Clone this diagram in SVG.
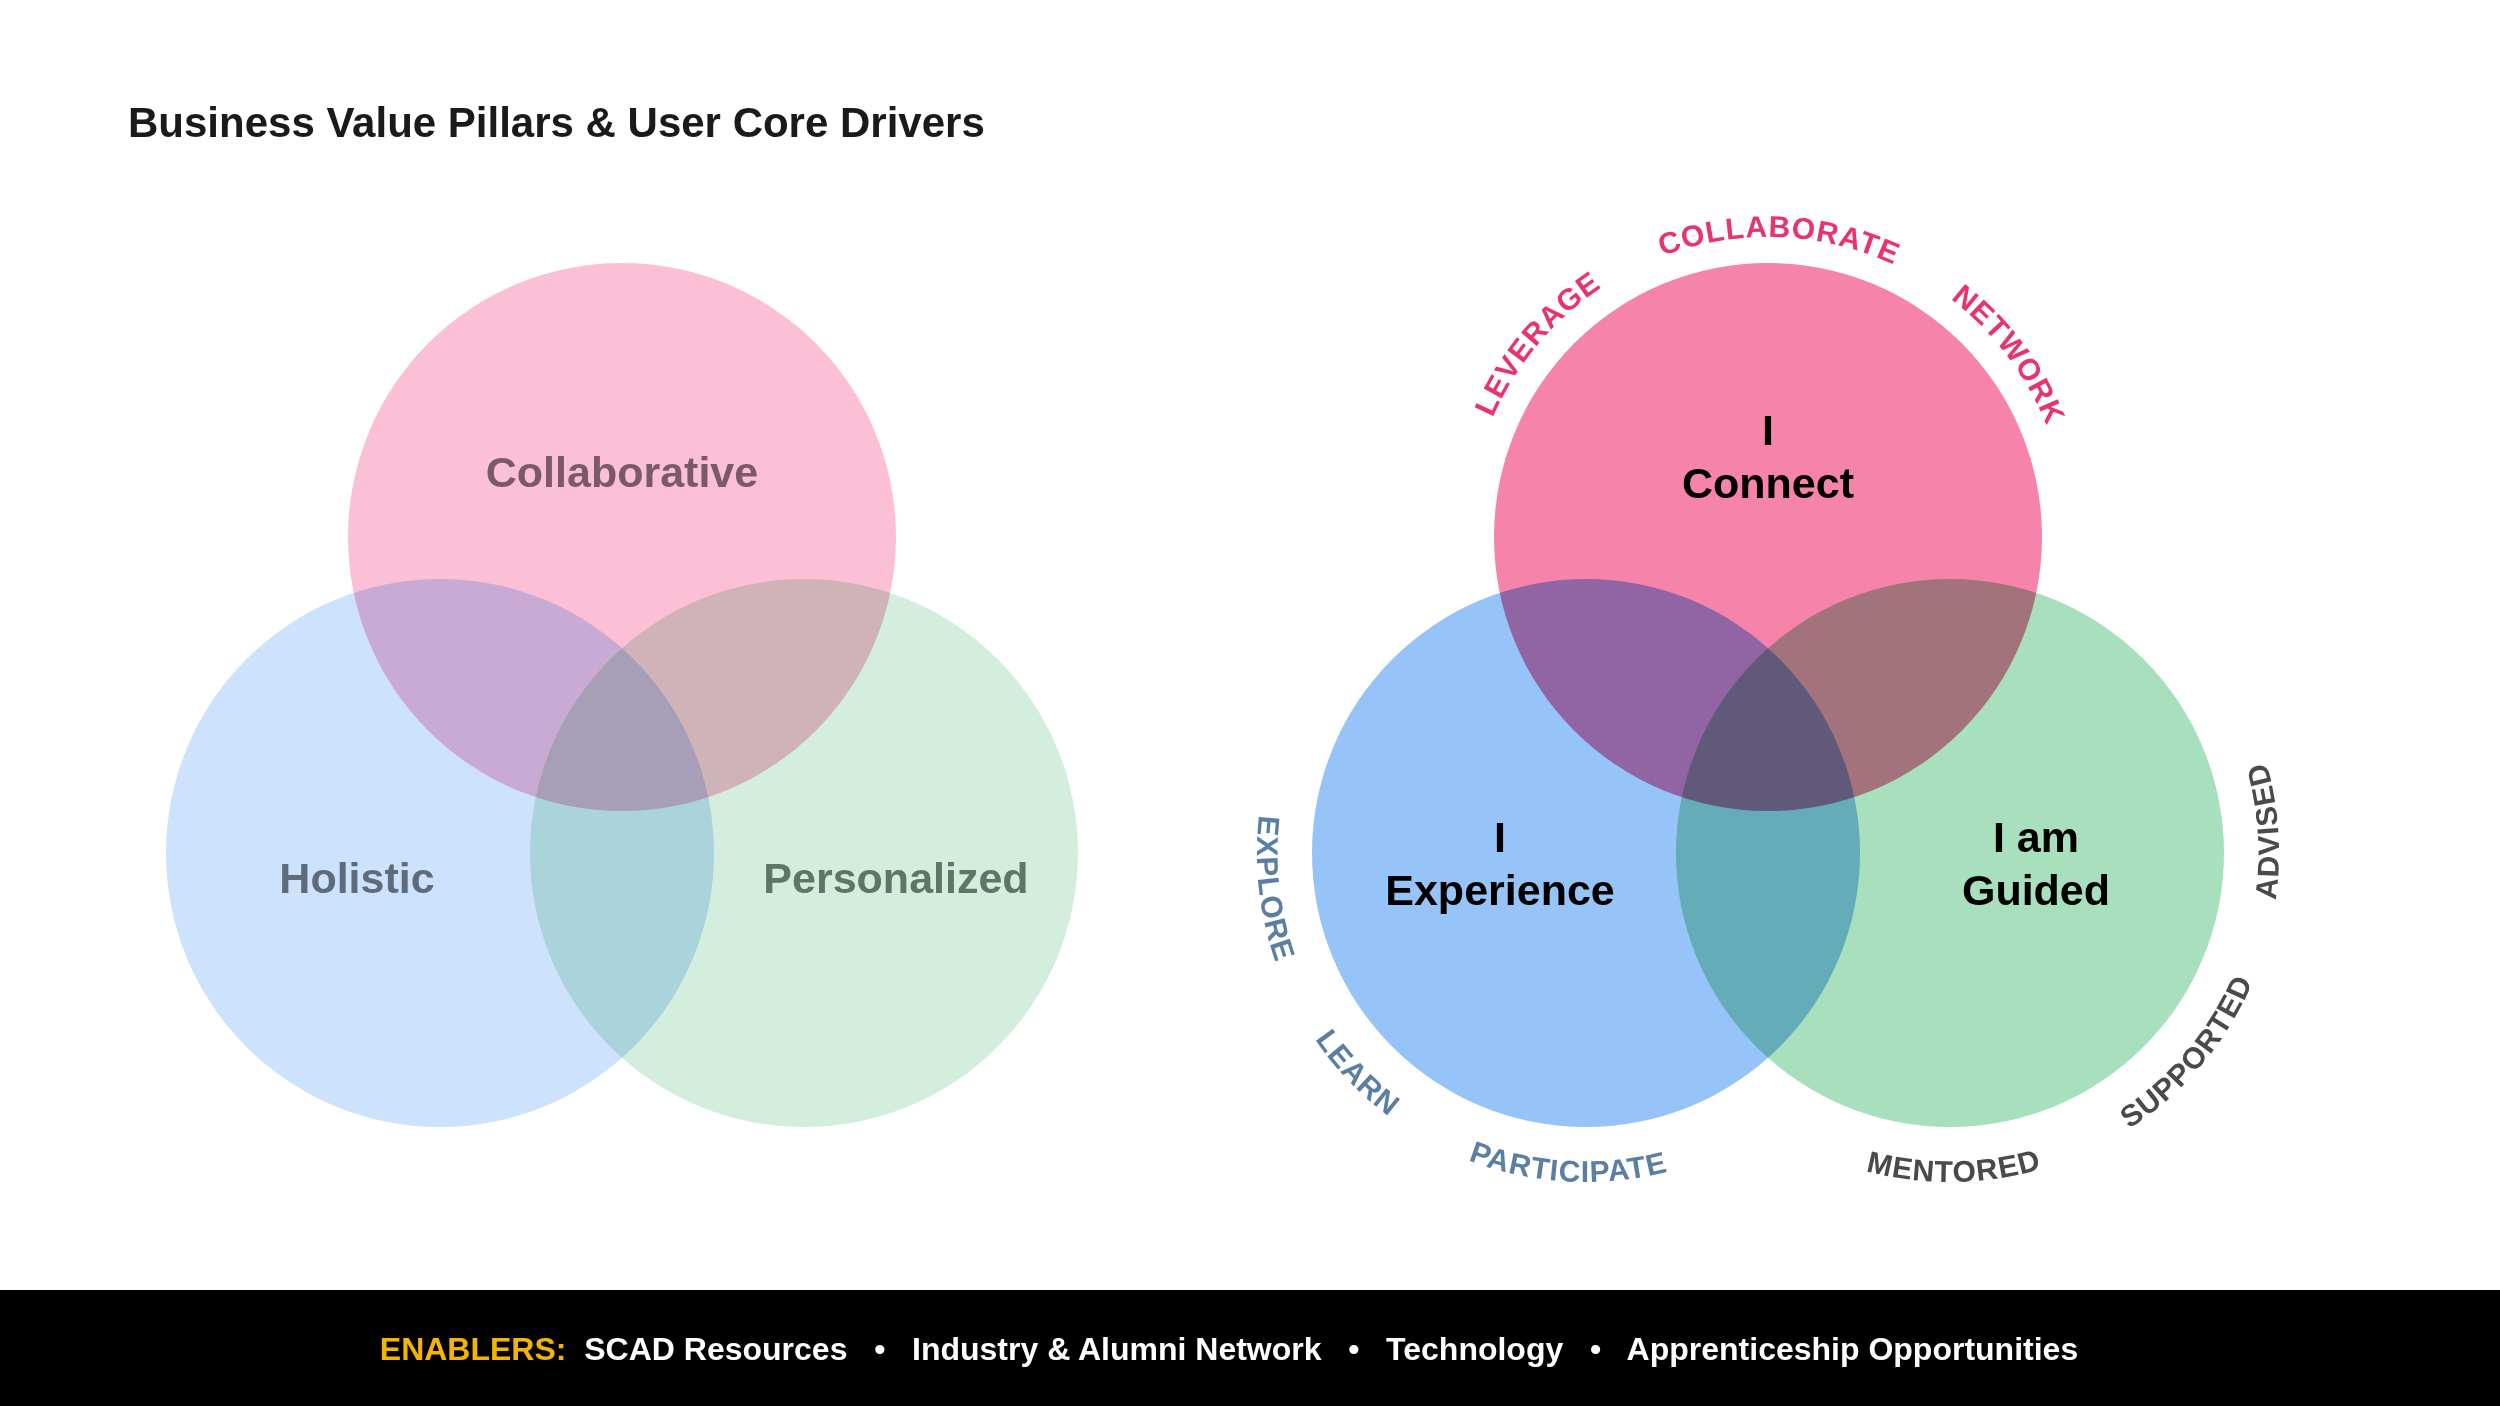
<svg xmlns="http://www.w3.org/2000/svg" width="2500" height="1406" viewBox="0 0 2500 1406">
<style>
text{font-family:"Liberation Sans",Arial,sans-serif;font-weight:bold}
.m{mix-blend-mode:multiply}
.lab{font-size:43px;text-anchor:middle}
.big{font-size:43px;text-anchor:middle;fill:#000}
.ring{font-size:30px;letter-spacing:1px}
</style>
<defs>
<path id="top" d="M1468,537 A300,300 0 1 1 2068,537 A300,300 0 1 1 1468,537"/>
<path id="bl" d="M1586,524 A329,329 0 1 0 1586,1182 A329,329 0 1 0 1586,524"/>
<path id="br" d="M1950,524 A329,329 0 1 0 1950,1182 A329,329 0 1 0 1950,524"/>
</defs>
<rect width="2500" height="1406" fill="#fff"/>
<text x="128" y="137" font-size="42" fill="#1a1a1a">Business Value Pillars &amp; User Core Drivers</text>
<g id="left-venn">
<g id="holistic"><circle class="m" cx="440" cy="853" r="274" fill="#cde2fd"/><text class="lab" x="357" y="893" fill="#5f6b7a">Holistic</text></g>
<g id="personalized"><circle class="m" cx="804" cy="853" r="274" fill="#d4eedd"/><text class="lab" x="896" y="893" fill="#5f7566">Personalized</text></g>
<g id="collaborative"><circle class="m" cx="622" cy="537" r="274" fill="#fbc0d6"/><text class="lab" x="622" y="487" fill="#7a5a68">Collaborative</text></g>
</g>
<g id="right-venn">
<g id="experience"><circle class="m" cx="1586" cy="853" r="274" fill="#96c4f8"/><text class="big" x="1500" y="852">I</text><text class="big" x="1500" y="905">Experience</text></g>
<g id="guided"><circle class="m" cx="1950" cy="853" r="274" fill="#a8e0bd"/><text class="big" x="2036" y="852">I am</text><text class="big" x="2036" y="905">Guided</text></g>
<g id="connect"><circle class="m" cx="1768" cy="537" r="274" fill="#f683a9"/><text class="big" x="1768" y="445">I</text><text class="big" x="1768" y="498">Connect</text></g>
</g>
<g id="ring-words">
<text class="ring" fill="#e8336f" text-anchor="middle"><textPath href="#top" startOffset="11.1%">LEVERAGE</textPath></text>
<text class="ring" fill="#e8336f" text-anchor="middle"><textPath href="#top" startOffset="25.6%">COLLABORATE</textPath></text>
<text class="ring" fill="#e8336f" text-anchor="middle"><textPath href="#top" startOffset="39.7%">NETWORK</textPath></text>
<text class="ring" fill="#5b7fa3" text-anchor="middle"><textPath href="#bl" startOffset="26.8%">EXPLORE</textPath></text>
<text class="ring" fill="#5b7fa3" text-anchor="middle"><textPath href="#bl" startOffset="37.2%">LEARN</textPath></text>
<text class="ring" fill="#5b7fa3" text-anchor="middle"><textPath href="#bl" startOffset="49.1%">PARTICIPATE</textPath></text>
<text class="ring" fill="#4a4a4a" text-anchor="middle"><textPath href="#br" startOffset="50.2%">MENTORED</textPath></text>
<text class="ring" fill="#4a4a4a" text-anchor="middle"><textPath href="#br" startOffset="63.9%">SUPPORTED</textPath></text>
<text class="ring" fill="#4a4a4a" text-anchor="middle"><textPath href="#br" startOffset="76.1%">ADVISED</textPath></text>
</g>
<g id="footer">
<rect x="0" y="1290" width="2500" height="116" fill="#000"/>
<text x="1229" y="1360" font-size="32" fill="#fff" text-anchor="middle" xml:space="preserve"><tspan fill="#f5b400">ENABLERS:</tspan>  SCAD Resources   •   Industry &amp; Alumni Network   •   Technology   •   Apprenticeship Opportunities</text>
</g>
</svg>
